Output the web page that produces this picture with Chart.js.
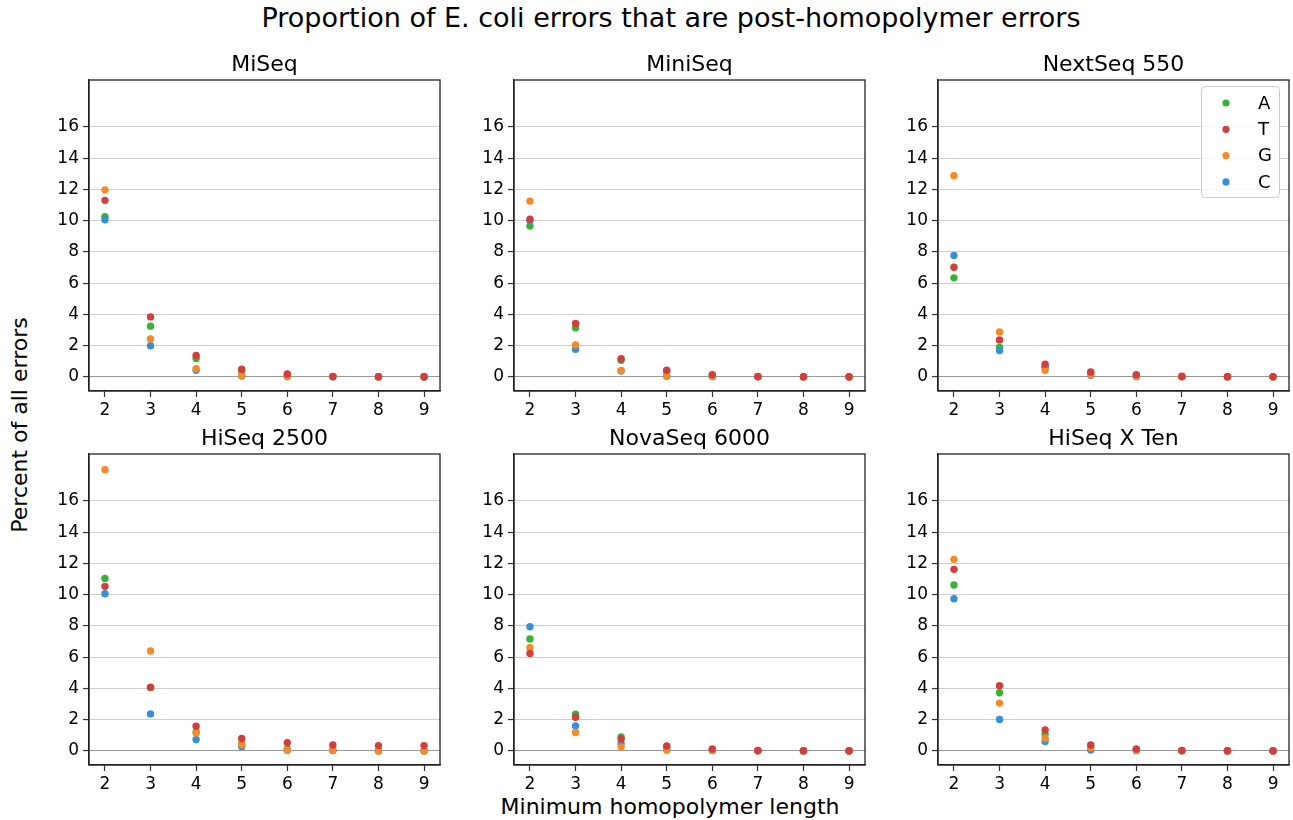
<!DOCTYPE html>
<html>
<head>
  <title>Post-homopolymer errors</title>
  <meta charset="utf-8" />
  <script src="https://cdn.jsdelivr.net/npm/chart.js@4.4.1/dist/chart.umd.min.js"></script>
  <style>
    body { margin: 0; background: #fff; font-family: 'DejaVu Sans', sans-serif; }
    #wrap { position: relative; width: 1293px; height: 820px; overflow: hidden; }
    canvas { position: absolute; }
    .txt { position: absolute; color: #000; white-space: nowrap; line-height: 1; }
    #suptitle { left: 671px; top: 4px; font-size: 27px; transform: translateX(-50%); }
    #xlabel { left: 670px; top: 796px; font-size: 22px; transform: translateX(-50%); }
    #ylabel { left: 20px; top: 425px; font-size: 22px; transform: translate(-50%, -50%) rotate(-90deg); }
  </style>
</head>
<body>
<div id="wrap">
  <div class="txt" id="suptitle">Proportion of E. coli errors that are post-homopolymer errors</div>
  <div class="txt" id="xlabel">Minimum homopolymer length</div>
  <div class="txt" id="ylabel">Percent of all errors</div>
  <canvas id="c0" width="405" height="370" style="left:39px;top:51px"></canvas>
  <canvas id="c1" width="405" height="370" style="left:464px;top:51px"></canvas>
  <canvas id="c2" width="405" height="370" style="left:888px;top:51px"></canvas>
  <canvas id="c3" width="405" height="370" style="left:39px;top:425px"></canvas>
  <canvas id="c4" width="405" height="370" style="left:464px;top:425px"></canvas>
  <canvas id="c5" width="405" height="370" style="left:888px;top:425px"></canvas>
</div>

<script>
  // x categories and axis ticks
  const lengths = [2, 3, 4, 5, 6, 7, 8, 9];
  const yTicks = [0, 2, 4, 6, 8, 10, 12, 14, 16];
  const bases = ['A', 'T', 'G', 'C'];
  const baseColors = ['#35b434', '#d33d3d', '#f68a26', '#3690d8'];
  const platforms = ['MiSeq', 'MiniSeq', 'NextSeq 550', 'HiSeq 2500', 'NovaSeq 6000', 'HiSeq X Ten'];

  // percent values, rows in base order A, T, G, C
  const miSeq = [
    [10.25, 3.25, 1.18, 0.38, 0.08, 0.02, 0.01, 0.01],
    [11.30, 3.84, 1.37, 0.49, 0.19, 0.03, 0.01, 0.01],
    [11.97, 2.43, 0.53, 0.09, 0.03, 0.01, 0, 0],
    [10.05, 2.00, 0.43, 0.06, 0.02, 0.01, 0, 0]
  ];
  const miniSeq = [
    [9.65, 3.14, 1.07, 0.36, 0.08, 0.02, 0.01, 0.01],
    [10.10, 3.42, 1.17, 0.43, 0.15, 0.03, 0.01, 0.01],
    [11.25, 2.05, 0.41, 0.07, 0.03, 0.01, 0, 0],
    [10.00, 1.77, 0.38, 0.05, 0.02, 0.01, 0, 0]
  ];
  const nextSeq550 = [
    [6.34, 1.88, 0.65, 0.20, 0.06, 0.02, 0.01, 0.01],
    [7.02, 2.37, 0.81, 0.32, 0.15, 0.04, 0.02, 0.02],
    [12.87, 2.88, 0.43, 0.13, 0.03, 0.01, 0, 0],
    [7.77, 1.69, 0.62, 0.10, 0.02, 0.01, 0, 0]
  ];
  const hiSeq2500 = [
    [11.04, 4.05, 1.20, 0.45, 0.12, 0.04, 0.02, 0.02],
    [10.53, 4.08, 1.58, 0.80, 0.53, 0.38, 0.34, 0.34],
    [17.99, 6.39, 1.15, 0.40, 0.07, 0.02, 0, 0],
    [10.06, 2.37, 0.73, 0.27, 0.05, 0.02, 0, 0]
  ];
  const novaSeq6000 = [
    [7.16, 2.35, 0.90, 0.25, 0.06, 0.02, 0.01, 0.01],
    [6.24, 2.16, 0.77, 0.32, 0.13, 0.03, 0.01, 0.01],
    [6.60, 1.18, 0.26, 0.04, 0.02, 0.01, 0, 0],
    [7.95, 1.60, 0.47, 0.10, 0.03, 0.01, 0, 0]
  ];
  const hiSeqXTen = [
    [10.62, 3.72, 1.07, 0.25, 0.06, 0.02, 0.01, 0.01],
    [11.62, 4.17, 1.35, 0.38, 0.13, 0.03, 0.01, 0.01],
    [12.26, 3.06, 0.81, 0.21, 0.04, 0.01, 0, 0],
    [9.74, 2.01, 0.60, 0.06, 0.03, 0.01, 0, 0]
  ];
  const platformData = [miSeq, miniSeq, nextSeq550, hiSeq2500, novaSeq6000, hiSeqXTen];

  // drawing order: T on top, then G, C, A at the bottom
  const drawOrder = [4, 1, 2, 3];

  Chart.defaults.font.family = "'DejaVu Sans', sans-serif";
  Chart.defaults.color = '#000';

  // full box around the plot area
  const framePlugin = {
    id: 'frame',
    afterDatasetsDraw(chart) {
      const a = chart.chartArea, ctx = chart.ctx;
      ctx.save();
      ctx.strokeStyle = '#222';
      ctx.lineWidth = 1.3;
      ctx.strokeRect(a.left, a.top, a.right - a.left, a.bottom - a.top);
      ctx.restore();
    }
  };

  // subplot title centred over the plot area (not the whole canvas)
  const panelTitle = {
    id: 'panelTitle',
    afterDraw(chart, args, opts) {
      const a = chart.chartArea, ctx = chart.ctx;
      ctx.save();
      ctx.font = "22px 'DejaVu Sans'";
      ctx.fillStyle = '#000';
      ctx.textAlign = 'center';
      ctx.textBaseline = 'alphabetic';
      ctx.fillText(opts.text, (a.left + a.right) / 2, a.top - 9);
      ctx.restore();
    }
  };

  // matplotlib-like boxed legend inside the plot
  const baseLegend = {
    id: 'baseLegend',
    afterDraw(chart, args, opts) {
      if (!opts.show) return;
      const a = chart.chartArea, ctx = chart.ctx;
      const w = 78, h = 111;
      const x0 = a.right - w - 10, y0 = a.top + 6;
      ctx.save();
      ctx.fillStyle = 'rgba(255,255,255,0.85)';
      ctx.strokeStyle = '#cccccc';
      ctx.lineWidth = 1;
      ctx.beginPath();
      ctx.roundRect(x0 + 0.5, y0 + 0.5, w, h, 4);
      ctx.fill();
      ctx.stroke();
      ctx.font = "18px 'DejaVu Sans'";
      ctx.textBaseline = 'middle';
      bases.forEach((b, i) => {
        const y = y0 + 17 + i * 26.3;
        ctx.fillStyle = baseColors[i];
        ctx.beginPath();
        ctx.arc(x0 + 25, y, 3.6, 0, Math.PI * 2);
        ctx.fill();
        ctx.fillStyle = '#000';
        ctx.fillText(b, x0 + 57, y + 1);
      });
      ctx.restore();
    }
  };

  function makePanel(idx) {
    const series = platformData[idx];
    const datasets = bases.map((b, i) => ({
      label: b,
      data: lengths.map((x, j) => ({ x: x, y: series[i][j] })),
      backgroundColor: baseColors[i],
      pointRadius: 3.7,
      pointBorderWidth: 0,
      order: drawOrder[i]
    }));

    new Chart(document.getElementById('c' + idx), {
      type: 'scatter',
      data: { datasets: datasets },
      options: {
        responsive: false,
        animation: false,
        events: [],
        layout: { padding: { left: 0, right: 2, top: 29, bottom: 0 } },
        plugins: {
          legend: { display: false },
          tooltip: { enabled: false },
          title: { display: false },
          panelTitle: { text: platforms[idx] },
          baseLegend: { show: idx === 2 }
        },
        scales: {
          x: {
            type: 'linear',
            min: 1.65,
            max: 9.35,
            afterBuildTicks: s => { s.ticks = lengths.map(v => ({ value: v })); },
            afterFit: s => { s.height = 30; },
            grid: { drawOnChartArea: false, drawTicks: true, tickLength: 6, tickColor: '#333', tickWidth: 1.2 },
            border: { color: '#222', width: 1.3 },
            ticks: { font: { size: 17 }, color: '#000', padding: 3, maxRotation: 0, autoSkip: false }
          },
          y: {
            type: 'linear',
            min: -0.9,
            max: 19.0,
            afterBuildTicks: s => { s.ticks = yTicks.map(v => ({ value: v })); },
            afterFit: s => { s.width = 50; },
            grid: {
              color: c => (c.tick && c.tick.value === 0) ? '#999999' : '#cfcfcf',
              lineWidth: 1.1,
              drawTicks: true,
              tickLength: 6,
              tickColor: '#333',
              tickWidth: 1.2
            },
            border: { color: '#222', width: 1.3 },
            ticks: { font: { size: 17 }, color: '#000', padding: 4 }
          }
        }
      },
      plugins: [framePlugin, panelTitle, baseLegend]
    });
  }

  platforms.forEach((p, i) => makePanel(i));
</script>
</body>
</html>
